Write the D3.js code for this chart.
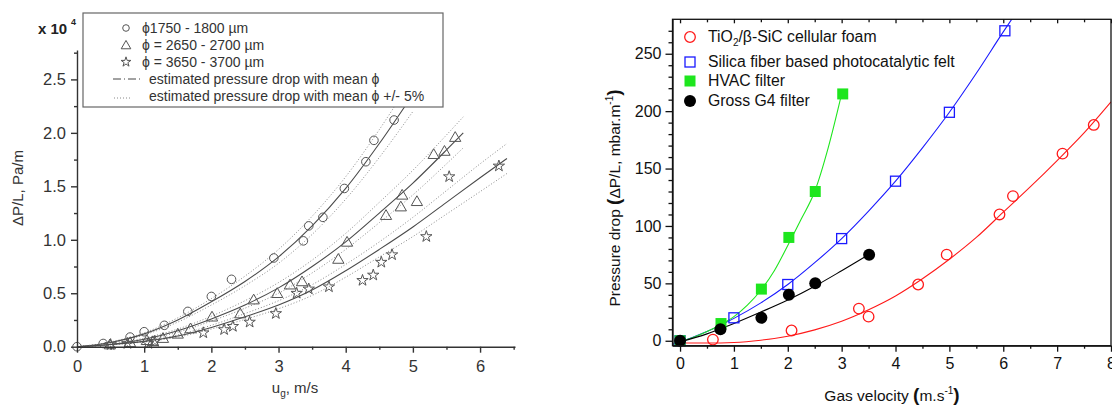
<!DOCTYPE html>
<html><head><meta charset="utf-8">
<script src="https://cdn.jsdelivr.net/npm/d3@7"></script>
<style>
body{margin:0;background:#fff}
svg{display:block}
text{font-family:Arial,"Liberation Sans",Helvetica,sans-serif}
</style></head>
<body><svg id="c" width="1112" height="407"></svg>
<script>
// ---------- LEFT CHART DATA ----------
const circleU = [0,0.39,0.79,1.0,1.3,1.65,2.0,2.3,2.93,3.37,3.45,3.66,3.98,4.3,4.42,4.72];
const circleV = [0,0.03,0.09,0.14,0.2,0.33,0.47,0.63,0.83,0.99,1.13,1.21,1.48,1.73,1.93,2.12];
const triU = [0.49,0.79,1.04,1.13,1.28,1.5,1.69,2.01,2.43,2.63,2.98,3.17,3.35,3.89,4.02,4.6,4.82,4.84,5.06,5.31,5.47,5.63];
const triV = [0.02,0.04,0.06,0.05,0.08,0.12,0.17,0.28,0.31,0.44,0.5,0.58,0.61,0.82,0.98,1.23,1.31,1.42,1.36,1.80,1.83,1.96];
const starU = [0.5,0.75,1.06,1.16,1.88,2.19,2.32,2.57,2.96,3.27,3.45,3.75,4.25,4.41,4.53,4.69,5.2,5.54,6.28];
const starV = [0.02,0.03,0.03,0.05,0.13,0.16,0.19,0.23,0.31,0.5,0.54,0.56,0.62,0.67,0.79,0.86,1.03,1.59,1.69];

const fitCircleU = [0,0.5,1,1.5,2,2.5,3,3.5,4,4.5,5];
const fitCircleMid = [0,0.04,0.12,0.25,0.42,0.61,0.84,1.13,1.48,1.9,2.36];
const fitCircleHi  = [0,0.045,0.13,0.27,0.45,0.66,0.91,1.22,1.59,2.03,2.52];
const fitCircleLo  = [0,0.035,0.11,0.23,0.39,0.57,0.78,1.05,1.38,1.77,2.2];
const fitTriU = [0,0.5,1,1.5,2,2.5,3,3.5,4,4.5,5,5.5,5.75];
const fitTriMid = [0,0.02,0.07,0.15,0.26,0.39,0.55,0.75,0.98,1.25,1.53,1.84,2.0];
const fitTriHi  = [0,0.025,0.08,0.165,0.285,0.43,0.6,0.81,1.06,1.35,1.65,1.98,2.15];
const fitTriLo  = [0,0.018,0.065,0.135,0.24,0.36,0.5,0.69,0.91,1.16,1.42,1.71,1.86];
const fitStarU = [0,0.5,1,1.5,2,2.5,3,3.5,4,4.5,5,5.5,6,6.4];
const fitStarMid = [0,0.02,0.05,0.1,0.18,0.28,0.39,0.53,0.71,0.91,1.12,1.35,1.58,1.76];
const fitStarHi  = [0,0.022,0.055,0.11,0.2,0.31,0.43,0.58,0.77,0.98,1.21,1.46,1.71,1.9];
const fitStarLo  = [0,0.018,0.045,0.09,0.165,0.255,0.355,0.48,0.65,0.84,1.03,1.24,1.45,1.62];

const leftXTicks = [0,1,2,3,4,5,6];
const leftYTicks = [0,0.5,1.0,1.5,2.0,2.5];
const leftLegend = ["\u03D51750 - 1800 \u00B5m","\u03D5 = 2650 - 2700 \u00B5m","\u03D5 = 3650 - 3700 \u00B5m",
  "estimated pressure drop with mean \u03D5","estimated pressure drop with mean \u03D5 +/- 5%"];

// ---------- RIGHT CHART DATA ----------
const redU = [0.61,2.07,3.32,3.5,4.42,4.95,5.93,6.18,7.10,7.68];
const redV = [1,9,28,21,49,75,110,126,163,188];
const blueU = [0,1,2,3,4,5,6.03];
const blueV = [0,20,49,89,139,199,270];
const greenU = [0,0.76,1.51,2.02,2.51,3.02];
const greenV = [0,15,45,90,130,215];
const blackU = [0,0.75,1.51,2.02,2.51,3.51];
const blackV = [0,10,20,40,50,75];

const redFitU = [0,0.5,1,1.5,2,2.5,3,3.5,4,4.5,5,5.5,6,6.5,7,7.5,8];
const redFitV = [-2,-2,-1.5,0.5,4,9.5,17,27,39,54,71,90,112,134,157,181,208];
const blueFitU = [-0.14,0,0.5,1,1.5,2,2.5,3,3.5,4,4.5,5,5.5,6,6.2];
const blueFitV = [-3,-1,8,19.5,33,49,68,89,113,139,168,199,233,269,283];
const greenFitU = [0,0.25,0.5,0.75,1,1.25,1.5,1.75,2,2.25,2.5,2.75,3];
const greenFitV = [-1,3,8,14,21,31,44,61,83,106,130,168,215];
const blackFitU = [0,0.5,1,1.5,2,2.5,3,3.5];
const blackFitV = [-1,6,15,25,35.5,47.5,61,75];

const rightXTicks = [0,1,2,3,4,5,6,7,8];
const rightYTicks = [0,50,100,150,200,250];

const svg = d3.select("#c");
const zip = (a,b)=>a.map((v,i)=>[v,b[i]]);

// ================= LEFT =================
const LC = "#333";
const xL = d3.scaleLinear([0,6.52],[77,515]);
const yL = d3.scaleLinear([0,2.775],[346.7,50]);
const gL = svg.append("g");

const lineL = d3.line().x(d=>xL(d[0])).y(d=>yL(d[1])).curve(d3.curveMonotoneX);
function fit(u,v,dotted){
  gL.append("path").attr("d",lineL(zip(u,v))).attr("fill","none")
    .attr("stroke",dotted?"#8a8a8a":"#4a4a4a").attr("stroke-width",dotted?1:1.1)
    .attr("stroke-dasharray",dotted?"1,2":null);
}
fit(fitCircleU,fitCircleHi,true);fit(fitCircleU,fitCircleLo,true);fit(fitCircleU,fitCircleMid,false);
fit(fitTriU,fitTriHi,true);fit(fitTriU,fitTriLo,true);fit(fitTriU,fitTriMid,false);
fit(fitStarU,fitStarHi,true);fit(fitStarU,fitStarLo,true);fit(fitStarU,fitStarMid,false);

const mk = "#555";
gL.selectAll(".ci").data(zip(circleU,circleV)).join("circle")
  .attr("cx",d=>xL(d[0])).attr("cy",d=>yL(d[1])).attr("r",4.3)
  .attr("fill","none").attr("stroke",mk).attr("stroke-width",1);
const triSym = d3.symbol(d3.symbolTriangle,55);
gL.selectAll(".tr").data(zip(triU,triV)).join("path")
  .attr("d",triSym).attr("transform",d=>`translate(${xL(d[0])},${yL(d[1])+1})`)
  .attr("fill","none").attr("stroke",mk).attr("stroke-width",1);
const starSym = d3.symbol(d3.symbolStar,40);
gL.selectAll(".st").data(zip(starU,starV)).join("path")
  .attr("d",starSym).attr("transform",d=>`translate(${xL(d[0])},${yL(d[1])})`)
  .attr("fill","none").attr("stroke",mk).attr("stroke-width",1);

// axes
const axL = gL.append("g").attr("transform",`translate(0,${yL(0)})`)
  .call(d3.axisBottom(xL).tickValues(leftXTicks).tickSize(6).tickSizeOuter(0).tickPadding(8).tickFormat(d3.format("d")));
axL.selectAll("text").attr("font-size",16.5).attr("fill",LC);
gL.append("g").attr("transform",`translate(0,${yL(0)})`)
  .call(d3.axisBottom(xL).tickValues(d3.range(0.5,6.6,1)).tickSize(3).tickFormat("")).select(".domain").remove();
const ayL = gL.append("g").attr("transform",`translate(${xL(0)},0)`)
  .call(d3.axisLeft(yL).tickValues(leftYTicks).tickSize(6).tickSizeOuter(0).tickPadding(5).tickFormat(d3.format(".1f")));
ayL.selectAll("text").attr("font-size",16.5).attr("fill",LC);
gL.append("g").attr("transform",`translate(${xL(0)},0)`)
  .call(d3.axisLeft(yL).tickValues(d3.range(0.25,2.8,0.5)).tickSize(3).tickFormat("")).select(".domain").remove();
gL.selectAll(".domain,.tick line").attr("stroke",LC).attr("stroke-width",1.4);

// labels
gL.append("text").attr("x",38).attr("y",34).attr("font-size",15).attr("font-weight","bold").attr("fill","#222").text("x 10");
gL.append("text").attr("x",71).attr("y",25).attr("font-size",9).attr("font-weight","bold").attr("fill","#222").text("4");
gL.append("text").attr("transform","translate(23,188) rotate(-90)").attr("text-anchor","middle")
  .attr("font-size",15).attr("fill",LC).text("\u0394P/L, Pa/m");
const xlab = gL.append("text").attr("x",295).attr("y",393).attr("text-anchor","middle").attr("font-size",15).attr("fill",LC);
xlab.append("tspan").text("u");
xlab.append("tspan").attr("font-size",10).attr("dy",4).text("g");
xlab.append("tspan").attr("dy",-4).text(", m/s");

// legend
const lg = gL.append("g");
lg.append("rect").attr("x",83).attr("y",13).attr("width",360).attr("height",94)
  .attr("fill","#fff").attr("stroke","#666").attr("stroke-width",1.2);
const rowsY = [28,45,62,79,96];
lg.append("circle").attr("cx",126).attr("cy",rowsY[0]).attr("r",3.3).attr("fill","none").attr("stroke",mk);
lg.append("path").attr("d",d3.symbol(d3.symbolTriangle,40)()).attr("transform",`translate(126,${rowsY[1]+1})`).attr("fill","none").attr("stroke",mk);
lg.append("path").attr("d",d3.symbol(d3.symbolStar,30)()).attr("transform",`translate(126,${rowsY[2]})`).attr("fill","none").attr("stroke",mk);
lg.append("line").attr("x1",113).attr("x2",140).attr("y1",rowsY[3]).attr("y2",rowsY[3]).attr("stroke","#444").attr("stroke-dasharray","8,3,1,3");
lg.append("line").attr("x1",114).attr("x2",130).attr("y1",rowsY[4]+2).attr("y2",rowsY[4]+2).attr("stroke","#888").attr("stroke-dasharray","1,2");
leftLegend.forEach((t,i)=>{
  lg.append("text").attr("x",i<3?142:149).attr("y",rowsY[i]+5).attr("font-size",14).attr("fill","#333").text(t);
});

// ================= RIGHT =================
const xR = d3.scaleLinear([-0.14,8],[672.5,1111]);
const yR = d3.scaleLinear([-4.3,280],[345.7,19.3]);
const gR = svg.append("g");
svg.append("defs").append("clipPath").attr("id","cr").append("rect")
  .attr("x",672.5).attr("y",19.3).attr("width",1111-672.5).attr("height",345.7-19.3);
const lineR = d3.line().x(d=>xR(d[0])).y(d=>yR(d[1])).curve(d3.curveMonotoneX);
const RED="#ff1a1a", BLUE="#1a1aff", GREEN="#1ee61e", BLACK="#000";
const gl = gR.append("g").attr("clip-path","url(#cr)");
[[redFitU,redFitV,RED],[blueFitU,blueFitV,BLUE],[greenFitU,greenFitV,GREEN],[blackFitU,blackFitV,BLACK]].forEach(([u,v,c])=>{
  gl.append("path").attr("d",lineR(zip(u,v))).attr("fill","none").attr("stroke",c).attr("stroke-width",1.1);
});
function rCircle(g,x,y){g.append("circle").attr("cx",x).attr("cy",y).attr("r",5.3).attr("fill","#fff").attr("fill-opacity",0).attr("stroke",RED).attr("stroke-width",1.3);}
function bSquare(g,x,y){g.append("rect").attr("x",x-5).attr("y",y-5).attr("width",10).attr("height",10).attr("fill","none").attr("stroke",BLUE).attr("stroke-width",1.3);}
function gSquare(g,x,y){g.append("rect").attr("x",x-5.5).attr("y",y-5.5).attr("width",11).attr("height",11).attr("fill",GREEN);}
function kCircle(g,x,y){g.append("circle").attr("cx",x).attr("cy",y).attr("r",6).attr("fill",BLACK);}
zip(redU,redV).forEach(d=>rCircle(gR,xR(d[0]),yR(d[1])));
zip(blueU,blueV).forEach(d=>bSquare(gR,xR(d[0]),yR(d[1])));
zip(greenU,greenV).forEach(d=>gSquare(gR,xR(d[0]),yR(d[1])));
zip(blackU,blackV).forEach(d=>kCircle(gR,xR(d[0]),yR(d[1])));

// frame & axes
const axB = gR.append("g").attr("transform",`translate(0,345.7)`)
  .call(d3.axisBottom(xR).tickValues(rightXTicks).tickSize(6).tickSizeOuter(0).tickPadding(6).tickFormat(d3.format("d")));
axB.selectAll("text").attr("font-size",16).attr("fill","#111");
gR.append("g").attr("transform",`translate(0,345.7)`)
  .call(d3.axisBottom(xR).tickValues(d3.range(0.5,8,1)).tickSize(3).tickFormat("")).select(".domain").remove();
gR.append("g").attr("transform",`translate(0,19.3)`)
  .call(d3.axisBottom(xR).tickValues(rightXTicks).tickSize(4).tickSizeOuter(0).tickFormat("")).select(".domain").remove();
gR.append("g").attr("transform",`translate(0,19.3)`)
  .call(d3.axisBottom(xR).tickValues(d3.range(0.5,8,1)).tickSize(3).tickFormat("")).select(".domain").remove();
const axLf = gR.append("g").attr("transform",`translate(672.5,0)`)
  .call(d3.axisLeft(yR).tickValues(rightYTicks).tickSize(7).tickSizeOuter(0).tickPadding(4).tickFormat(d3.format("d")));
axLf.selectAll("text").attr("font-size",16).attr("fill","#111");
gR.append("g").attr("transform",`translate(672.5,0)`)
  .call(d3.axisLeft(yR).tickValues(d3.range(10,280,10).filter(v=>v%50!==0)).tickSize(4).tickFormat("")).select(".domain").remove();
gR.selectAll(".domain,.tick line").attr("stroke","#111").attr("stroke-width",1.3);
gR.append("rect").attr("x",672.5).attr("y",19.3).attr("width",1111-672.5).attr("height",345.7-19.3)
  .attr("fill","none").attr("stroke","#111").attr("stroke-width",1.3);

// legend right
const ry = [37,62,81,101];
rCircle(gR,690,ry[0]); bSquare(gR,690,ry[1]); gSquare(gR,690,ry[2]); kCircle(gR,690,ry[3]);
const t0 = gR.append("text").attr("x",708).attr("y",ry[0]+5).attr("font-size",15.8).attr("fill","#111");
t0.append("tspan").text("TiO");
t0.append("tspan").attr("font-size",10).attr("dy",4).text("2");
t0.append("tspan").attr("dy",-4).text("/\u03B2-SiC cellular foam");
["Silica fiber based photocatalytic felt","HVAC filter","Gross G4 filter"].forEach((t,i)=>{
  gR.append("text").attr("x",708).attr("y",ry[i+1]+5).attr("font-size",15.8).attr("fill","#111").text(t);
});

// axis titles
const yt = gR.append("text").attr("transform","translate(620,198) rotate(-90)").attr("text-anchor","middle")
  .attr("font-size",15.5).attr("fill","#111");
yt.append("tspan").text("Pressure drop ");
yt.append("tspan").attr("font-weight","bold").attr("font-size",19).text("(");
yt.append("tspan").text("\u0394P/L, mbar.m");
yt.append("tspan").attr("font-size",10).attr("dy",-7).text("-1");
yt.append("tspan").attr("font-weight","bold").attr("font-size",19).attr("dy",7).text(")");
const xt = gR.append("text").attr("x",892).attr("y",401).attr("text-anchor","middle")
  .attr("font-size",15.5).attr("fill","#111");
xt.append("tspan").text("Gas velocity ");
xt.append("tspan").attr("font-weight","bold").attr("font-size",19).text("(");
xt.append("tspan").text("m.s");
xt.append("tspan").attr("font-size",10).attr("dy",-7).text("-1");
xt.append("tspan").attr("font-weight","bold").attr("font-size",19).attr("dy",7).text(")");
</script>
</body></html>
